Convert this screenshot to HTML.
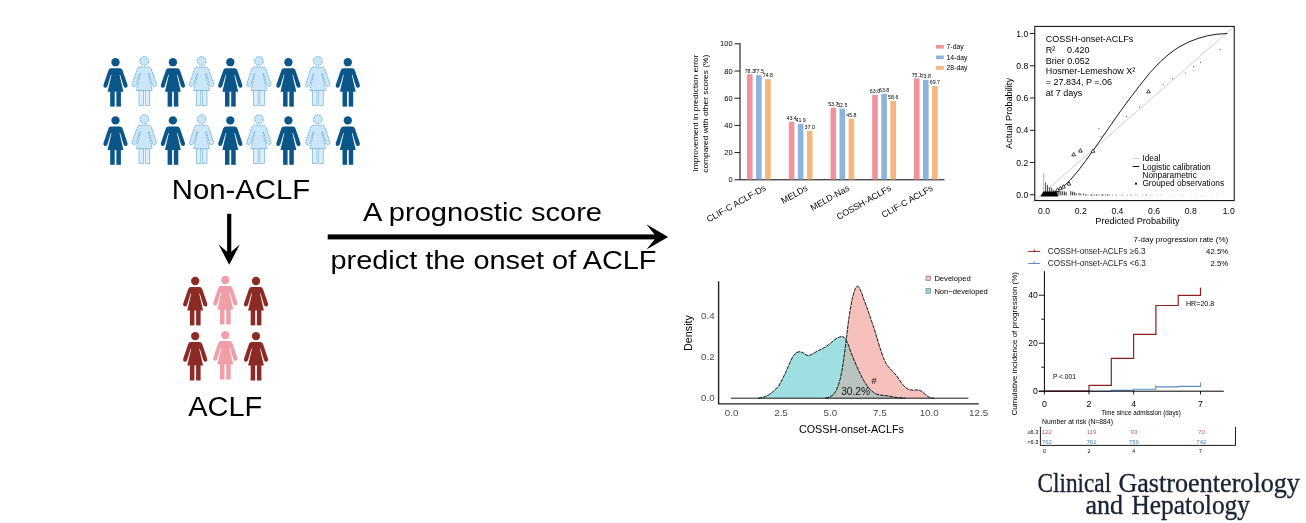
<!DOCTYPE html>
<html lang="en">
<head>
<meta charset="utf-8">
<title>Graphical abstract</title>
<style>
html,body{margin:0;padding:0;background:#fff;}
body{width:1306px;height:523px;overflow:hidden;}
svg{display:block;font-family:"Liberation Sans", Arial, sans-serif;}
</style>
</head>
<body>
<svg width="1306" height="523" viewBox="0 0 1306 523">
<rect width="1306" height="523" fill="#ffffff"/>
<g id="people">
<rect x="110.2" y="91.2" width="4.5" height="15.4" fill="#0b5688"/>
<rect x="116.4" y="91.2" width="4.5" height="15.4" fill="#0b5688"/>
<path d="M111.1,68.2 Q109.1,68.2 108.4,70.4 L103.5,84.80000000000001 Q103.0,87.5 105.1,87.80000000000001 Q106.9,88.0 107.5,86.0 L110.9,74.8 L111.5,74.8 L107.6,91.7 L123.4,91.7 L119.5,74.8 L120.1,74.8 L123.5,86.0 Q124.1,88.0 125.9,87.80000000000001 Q128.0,87.5 127.5,84.80000000000001 L122.6,70.4 Q121.9,68.2 119.9,68.2 Z" fill="#0b5688"/>
<circle cx="115.5" cy="62.2" r="4.15" fill="#0b5688"/>
<rect x="139.0" y="90.0" width="4.5" height="15.4" fill="#dbeefb" stroke="#5fa6d6" stroke-width="0.6"/>
<rect x="145.20000000000002" y="90.0" width="4.5" height="15.4" fill="#dbeefb" stroke="#5fa6d6" stroke-width="0.6"/>
<path d="M139.9,67.0 Q137.9,67.0 137.20000000000002,69.2 L132.3,83.6 Q131.8,86.3 133.9,86.6 Q135.70000000000002,86.8 136.3,84.8 L139.70000000000002,73.6 L140.3,73.6 L136.4,90.5 L152.20000000000002,90.5 L148.3,73.6 L148.9,73.6 L152.3,84.8 Q152.9,86.8 154.70000000000002,86.6 Q156.8,86.3 156.3,83.6 L151.4,69.2 Q150.70000000000002,67.0 148.70000000000002,67.0 Z" fill="#cbe6f8" stroke="#5fa6d6" stroke-width="0.9" stroke-dasharray="1.8 0.9"/>
<circle cx="144.3" cy="61.0" r="4.4" fill="#cbe6f8" stroke="#5fa6d6" stroke-width="0.9" stroke-dasharray="1.8 0.9"/>
<rect x="167.6" y="91.2" width="4.5" height="15.4" fill="#0b5688"/>
<rect x="173.8" y="91.2" width="4.5" height="15.4" fill="#0b5688"/>
<path d="M168.5,68.2 Q166.5,68.2 165.8,70.4 L160.9,84.80000000000001 Q160.4,87.5 162.5,87.80000000000001 Q164.3,88.0 164.9,86.0 L168.3,74.8 L168.9,74.8 L165.0,91.7 L180.8,91.7 L176.9,74.8 L177.5,74.8 L180.9,86.0 Q181.5,88.0 183.3,87.80000000000001 Q185.4,87.5 184.9,84.80000000000001 L180.0,70.4 Q179.3,68.2 177.3,68.2 Z" fill="#0b5688"/>
<circle cx="172.9" cy="62.2" r="4.15" fill="#0b5688"/>
<rect x="196.29999999999998" y="90.0" width="4.5" height="15.4" fill="#dbeefb" stroke="#5fa6d6" stroke-width="0.6"/>
<rect x="202.5" y="90.0" width="4.5" height="15.4" fill="#dbeefb" stroke="#5fa6d6" stroke-width="0.6"/>
<path d="M197.2,67.0 Q195.2,67.0 194.5,69.2 L189.6,83.6 Q189.1,86.3 191.2,86.6 Q193.0,86.8 193.6,84.8 L197.0,73.6 L197.6,73.6 L193.7,90.5 L209.5,90.5 L205.6,73.6 L206.2,73.6 L209.6,84.8 Q210.2,86.8 212.0,86.6 Q214.1,86.3 213.6,83.6 L208.7,69.2 Q208.0,67.0 206.0,67.0 Z" fill="#cbe6f8" stroke="#5fa6d6" stroke-width="0.9" stroke-dasharray="1.8 0.9"/>
<circle cx="201.6" cy="61.0" r="4.4" fill="#cbe6f8" stroke="#5fa6d6" stroke-width="0.9" stroke-dasharray="1.8 0.9"/>
<rect x="225.0" y="91.2" width="4.5" height="15.4" fill="#0b5688"/>
<rect x="231.20000000000002" y="91.2" width="4.5" height="15.4" fill="#0b5688"/>
<path d="M225.9,68.2 Q223.9,68.2 223.20000000000002,70.4 L218.3,84.80000000000001 Q217.8,87.5 219.9,87.80000000000001 Q221.70000000000002,88.0 222.3,86.0 L225.70000000000002,74.8 L226.3,74.8 L222.4,91.7 L238.20000000000002,91.7 L234.3,74.8 L234.9,74.8 L238.3,86.0 Q238.9,88.0 240.70000000000002,87.80000000000001 Q242.8,87.5 242.3,84.80000000000001 L237.4,70.4 Q236.70000000000002,68.2 234.70000000000002,68.2 Z" fill="#0b5688"/>
<circle cx="230.3" cy="62.2" r="4.15" fill="#0b5688"/>
<rect x="253.59999999999997" y="90.0" width="4.5" height="15.4" fill="#dbeefb" stroke="#5fa6d6" stroke-width="0.6"/>
<rect x="259.79999999999995" y="90.0" width="4.5" height="15.4" fill="#dbeefb" stroke="#5fa6d6" stroke-width="0.6"/>
<path d="M254.49999999999997,67.0 Q252.49999999999997,67.0 251.79999999999998,69.2 L246.89999999999998,83.6 Q246.39999999999998,86.3 248.49999999999997,86.6 Q250.29999999999998,86.8 250.89999999999998,84.8 L254.29999999999998,73.6 L254.89999999999998,73.6 L250.99999999999997,90.5 L266.79999999999995,90.5 L262.9,73.6 L263.5,73.6 L266.9,84.8 Q267.5,86.8 269.29999999999995,86.6 Q271.4,86.3 270.9,83.6 L266.0,69.2 Q265.29999999999995,67.0 263.29999999999995,67.0 Z" fill="#cbe6f8" stroke="#5fa6d6" stroke-width="0.9" stroke-dasharray="1.8 0.9"/>
<circle cx="258.9" cy="61.0" r="4.4" fill="#cbe6f8" stroke="#5fa6d6" stroke-width="0.9" stroke-dasharray="1.8 0.9"/>
<rect x="283.09999999999997" y="91.2" width="4.5" height="15.4" fill="#0b5688"/>
<rect x="289.29999999999995" y="91.2" width="4.5" height="15.4" fill="#0b5688"/>
<path d="M284.0,68.2 Q282.0,68.2 281.29999999999995,70.4 L276.4,84.80000000000001 Q275.9,87.5 278.0,87.80000000000001 Q279.79999999999995,88.0 280.4,86.0 L283.79999999999995,74.8 L284.4,74.8 L280.5,91.7 L296.29999999999995,91.7 L292.4,74.8 L293.0,74.8 L296.4,86.0 Q297.0,88.0 298.79999999999995,87.80000000000001 Q300.9,87.5 300.4,84.80000000000001 L295.5,70.4 Q294.79999999999995,68.2 292.79999999999995,68.2 Z" fill="#0b5688"/>
<circle cx="288.4" cy="62.2" r="4.15" fill="#0b5688"/>
<rect x="312.5" y="90.0" width="4.5" height="15.4" fill="#dbeefb" stroke="#5fa6d6" stroke-width="0.6"/>
<rect x="318.7" y="90.0" width="4.5" height="15.4" fill="#dbeefb" stroke="#5fa6d6" stroke-width="0.6"/>
<path d="M313.40000000000003,67.0 Q311.40000000000003,67.0 310.7,69.2 L305.8,83.6 Q305.3,86.3 307.40000000000003,86.6 Q309.2,86.8 309.8,84.8 L313.2,73.6 L313.8,73.6 L309.90000000000003,90.5 L325.7,90.5 L321.8,73.6 L322.40000000000003,73.6 L325.8,84.8 Q326.40000000000003,86.8 328.2,86.6 Q330.3,86.3 329.8,83.6 L324.90000000000003,69.2 Q324.2,67.0 322.2,67.0 Z" fill="#cbe6f8" stroke="#5fa6d6" stroke-width="0.9" stroke-dasharray="1.8 0.9"/>
<circle cx="317.8" cy="61.0" r="4.4" fill="#cbe6f8" stroke="#5fa6d6" stroke-width="0.9" stroke-dasharray="1.8 0.9"/>
<rect x="342.5" y="91.2" width="4.5" height="15.4" fill="#0b5688"/>
<rect x="348.7" y="91.2" width="4.5" height="15.4" fill="#0b5688"/>
<path d="M343.40000000000003,68.2 Q341.40000000000003,68.2 340.7,70.4 L335.8,84.80000000000001 Q335.3,87.5 337.40000000000003,87.80000000000001 Q339.2,88.0 339.8,86.0 L343.2,74.8 L343.8,74.8 L339.90000000000003,91.7 L355.7,91.7 L351.8,74.8 L352.40000000000003,74.8 L355.8,86.0 Q356.40000000000003,88.0 358.2,87.80000000000001 Q360.3,87.5 359.8,84.80000000000001 L354.90000000000003,70.4 Q354.2,68.2 352.2,68.2 Z" fill="#0b5688"/>
<circle cx="347.8" cy="62.2" r="4.15" fill="#0b5688"/>
<rect x="110.2" y="149.4" width="4.5" height="15.4" fill="#0b5688"/>
<rect x="116.4" y="149.4" width="4.5" height="15.4" fill="#0b5688"/>
<path d="M111.1,126.4 Q109.1,126.4 108.4,128.6 L103.5,143.0 Q103.0,145.70000000000002 105.1,146.0 Q106.9,146.20000000000002 107.5,144.20000000000002 L110.9,133.0 L111.5,133.0 L107.6,149.9 L123.4,149.9 L119.5,133.0 L120.1,133.0 L123.5,144.20000000000002 Q124.1,146.20000000000002 125.9,146.0 Q128.0,145.70000000000002 127.5,143.0 L122.6,128.6 Q121.9,126.4 119.9,126.4 Z" fill="#0b5688"/>
<circle cx="115.5" cy="120.4" r="4.15" fill="#0b5688"/>
<rect x="139.0" y="148.2" width="4.5" height="15.4" fill="#dbeefb" stroke="#5fa6d6" stroke-width="0.6"/>
<rect x="145.20000000000002" y="148.2" width="4.5" height="15.4" fill="#dbeefb" stroke="#5fa6d6" stroke-width="0.6"/>
<path d="M139.9,125.2 Q137.9,125.2 137.20000000000002,127.4 L132.3,141.8 Q131.8,144.5 133.9,144.8 Q135.70000000000002,145.0 136.3,143.0 L139.70000000000002,131.8 L140.3,131.8 L136.4,148.7 L152.20000000000002,148.7 L148.3,131.8 L148.9,131.8 L152.3,143.0 Q152.9,145.0 154.70000000000002,144.8 Q156.8,144.5 156.3,141.8 L151.4,127.4 Q150.70000000000002,125.2 148.70000000000002,125.2 Z" fill="#cbe6f8" stroke="#5fa6d6" stroke-width="0.9" stroke-dasharray="1.8 0.9"/>
<circle cx="144.3" cy="119.2" r="4.4" fill="#cbe6f8" stroke="#5fa6d6" stroke-width="0.9" stroke-dasharray="1.8 0.9"/>
<rect x="167.6" y="149.4" width="4.5" height="15.4" fill="#0b5688"/>
<rect x="173.8" y="149.4" width="4.5" height="15.4" fill="#0b5688"/>
<path d="M168.5,126.4 Q166.5,126.4 165.8,128.6 L160.9,143.0 Q160.4,145.70000000000002 162.5,146.0 Q164.3,146.20000000000002 164.9,144.20000000000002 L168.3,133.0 L168.9,133.0 L165.0,149.9 L180.8,149.9 L176.9,133.0 L177.5,133.0 L180.9,144.20000000000002 Q181.5,146.20000000000002 183.3,146.0 Q185.4,145.70000000000002 184.9,143.0 L180.0,128.6 Q179.3,126.4 177.3,126.4 Z" fill="#0b5688"/>
<circle cx="172.9" cy="120.4" r="4.15" fill="#0b5688"/>
<rect x="196.29999999999998" y="148.2" width="4.5" height="15.4" fill="#dbeefb" stroke="#5fa6d6" stroke-width="0.6"/>
<rect x="202.5" y="148.2" width="4.5" height="15.4" fill="#dbeefb" stroke="#5fa6d6" stroke-width="0.6"/>
<path d="M197.2,125.2 Q195.2,125.2 194.5,127.4 L189.6,141.8 Q189.1,144.5 191.2,144.8 Q193.0,145.0 193.6,143.0 L197.0,131.8 L197.6,131.8 L193.7,148.7 L209.5,148.7 L205.6,131.8 L206.2,131.8 L209.6,143.0 Q210.2,145.0 212.0,144.8 Q214.1,144.5 213.6,141.8 L208.7,127.4 Q208.0,125.2 206.0,125.2 Z" fill="#cbe6f8" stroke="#5fa6d6" stroke-width="0.9" stroke-dasharray="1.8 0.9"/>
<circle cx="201.6" cy="119.2" r="4.4" fill="#cbe6f8" stroke="#5fa6d6" stroke-width="0.9" stroke-dasharray="1.8 0.9"/>
<rect x="225.0" y="149.4" width="4.5" height="15.4" fill="#0b5688"/>
<rect x="231.20000000000002" y="149.4" width="4.5" height="15.4" fill="#0b5688"/>
<path d="M225.9,126.4 Q223.9,126.4 223.20000000000002,128.6 L218.3,143.0 Q217.8,145.70000000000002 219.9,146.0 Q221.70000000000002,146.20000000000002 222.3,144.20000000000002 L225.70000000000002,133.0 L226.3,133.0 L222.4,149.9 L238.20000000000002,149.9 L234.3,133.0 L234.9,133.0 L238.3,144.20000000000002 Q238.9,146.20000000000002 240.70000000000002,146.0 Q242.8,145.70000000000002 242.3,143.0 L237.4,128.6 Q236.70000000000002,126.4 234.70000000000002,126.4 Z" fill="#0b5688"/>
<circle cx="230.3" cy="120.4" r="4.15" fill="#0b5688"/>
<rect x="253.59999999999997" y="148.2" width="4.5" height="15.4" fill="#dbeefb" stroke="#5fa6d6" stroke-width="0.6"/>
<rect x="259.79999999999995" y="148.2" width="4.5" height="15.4" fill="#dbeefb" stroke="#5fa6d6" stroke-width="0.6"/>
<path d="M254.49999999999997,125.2 Q252.49999999999997,125.2 251.79999999999998,127.4 L246.89999999999998,141.8 Q246.39999999999998,144.5 248.49999999999997,144.8 Q250.29999999999998,145.0 250.89999999999998,143.0 L254.29999999999998,131.8 L254.89999999999998,131.8 L250.99999999999997,148.7 L266.79999999999995,148.7 L262.9,131.8 L263.5,131.8 L266.9,143.0 Q267.5,145.0 269.29999999999995,144.8 Q271.4,144.5 270.9,141.8 L266.0,127.4 Q265.29999999999995,125.2 263.29999999999995,125.2 Z" fill="#cbe6f8" stroke="#5fa6d6" stroke-width="0.9" stroke-dasharray="1.8 0.9"/>
<circle cx="258.9" cy="119.2" r="4.4" fill="#cbe6f8" stroke="#5fa6d6" stroke-width="0.9" stroke-dasharray="1.8 0.9"/>
<rect x="283.09999999999997" y="149.4" width="4.5" height="15.4" fill="#0b5688"/>
<rect x="289.29999999999995" y="149.4" width="4.5" height="15.4" fill="#0b5688"/>
<path d="M284.0,126.4 Q282.0,126.4 281.29999999999995,128.6 L276.4,143.0 Q275.9,145.70000000000002 278.0,146.0 Q279.79999999999995,146.20000000000002 280.4,144.20000000000002 L283.79999999999995,133.0 L284.4,133.0 L280.5,149.9 L296.29999999999995,149.9 L292.4,133.0 L293.0,133.0 L296.4,144.20000000000002 Q297.0,146.20000000000002 298.79999999999995,146.0 Q300.9,145.70000000000002 300.4,143.0 L295.5,128.6 Q294.79999999999995,126.4 292.79999999999995,126.4 Z" fill="#0b5688"/>
<circle cx="288.4" cy="120.4" r="4.15" fill="#0b5688"/>
<rect x="312.5" y="148.2" width="4.5" height="15.4" fill="#dbeefb" stroke="#5fa6d6" stroke-width="0.6"/>
<rect x="318.7" y="148.2" width="4.5" height="15.4" fill="#dbeefb" stroke="#5fa6d6" stroke-width="0.6"/>
<path d="M313.40000000000003,125.2 Q311.40000000000003,125.2 310.7,127.4 L305.8,141.8 Q305.3,144.5 307.40000000000003,144.8 Q309.2,145.0 309.8,143.0 L313.2,131.8 L313.8,131.8 L309.90000000000003,148.7 L325.7,148.7 L321.8,131.8 L322.40000000000003,131.8 L325.8,143.0 Q326.40000000000003,145.0 328.2,144.8 Q330.3,144.5 329.8,141.8 L324.90000000000003,127.4 Q324.2,125.2 322.2,125.2 Z" fill="#cbe6f8" stroke="#5fa6d6" stroke-width="0.9" stroke-dasharray="1.8 0.9"/>
<circle cx="317.8" cy="119.2" r="4.4" fill="#cbe6f8" stroke="#5fa6d6" stroke-width="0.9" stroke-dasharray="1.8 0.9"/>
<rect x="342.5" y="149.4" width="4.5" height="15.4" fill="#0b5688"/>
<rect x="348.7" y="149.4" width="4.5" height="15.4" fill="#0b5688"/>
<path d="M343.40000000000003,126.4 Q341.40000000000003,126.4 340.7,128.6 L335.8,143.0 Q335.3,145.70000000000002 337.40000000000003,146.0 Q339.2,146.20000000000002 339.8,144.20000000000002 L343.2,133.0 L343.8,133.0 L339.90000000000003,149.9 L355.7,149.9 L351.8,133.0 L352.40000000000003,133.0 L355.8,144.20000000000002 Q356.40000000000003,146.20000000000002 358.2,146.0 Q360.3,145.70000000000002 359.8,143.0 L354.90000000000003,128.6 Q354.2,126.4 352.2,126.4 Z" fill="#0b5688"/>
<circle cx="347.8" cy="120.4" r="4.15" fill="#0b5688"/>
<rect x="189.89999999999998" y="310.0" width="4.5" height="15.4" fill="#8c2a25"/>
<rect x="196.1" y="310.0" width="4.5" height="15.4" fill="#8c2a25"/>
<path d="M190.79999999999998,287.0 Q188.79999999999998,287.0 188.1,289.2 L183.2,303.6 Q182.7,306.3 184.79999999999998,306.6 Q186.6,306.8 187.2,304.8 L190.6,293.6 L191.2,293.6 L187.29999999999998,310.5 L203.1,310.5 L199.2,293.6 L199.79999999999998,293.6 L203.2,304.8 Q203.79999999999998,306.8 205.6,306.6 Q207.7,306.3 207.2,303.6 L202.29999999999998,289.2 Q201.6,287.0 199.6,287.0 Z" fill="#8c2a25"/>
<circle cx="195.2" cy="281.0" r="4.15" fill="#8c2a25"/>
<rect x="220.0" y="309.0" width="4.5" height="15.4" fill="#f19ea8"/>
<rect x="226.20000000000002" y="309.0" width="4.5" height="15.4" fill="#f19ea8"/>
<path d="M220.9,286.0 Q218.9,286.0 218.20000000000002,288.2 L213.3,302.6 Q212.8,305.3 214.9,305.6 Q216.70000000000002,305.8 217.3,303.8 L220.70000000000002,292.6 L221.3,292.6 L217.4,309.5 L233.20000000000002,309.5 L229.3,292.6 L229.9,292.6 L233.3,303.8 Q233.9,305.8 235.70000000000002,305.6 Q237.8,305.3 237.3,302.6 L232.4,288.2 Q231.70000000000002,286.0 229.70000000000002,286.0 Z" fill="#f19ea8"/>
<circle cx="225.3" cy="280.0" r="4.15" fill="#f19ea8"/>
<rect x="250.7" y="310.0" width="4.5" height="15.4" fill="#8c2a25"/>
<rect x="256.9" y="310.0" width="4.5" height="15.4" fill="#8c2a25"/>
<path d="M251.6,287.0 Q249.6,287.0 248.9,289.2 L244.0,303.6 Q243.5,306.3 245.6,306.6 Q247.4,306.8 248.0,304.8 L251.4,293.6 L252.0,293.6 L248.1,310.5 L263.9,310.5 L260.0,293.6 L260.6,293.6 L264.0,304.8 Q264.6,306.8 266.4,306.6 Q268.5,306.3 268.0,303.6 L263.1,289.2 Q262.4,287.0 260.4,287.0 Z" fill="#8c2a25"/>
<circle cx="256.0" cy="281.0" r="4.15" fill="#8c2a25"/>
<rect x="189.89999999999998" y="365.1" width="4.5" height="15.4" fill="#8c2a25"/>
<rect x="196.1" y="365.1" width="4.5" height="15.4" fill="#8c2a25"/>
<path d="M190.79999999999998,342.1 Q188.79999999999998,342.1 188.1,344.3 L183.2,358.70000000000005 Q182.7,361.40000000000003 184.79999999999998,361.70000000000005 Q186.6,361.90000000000003 187.2,359.90000000000003 L190.6,348.70000000000005 L191.2,348.70000000000005 L187.29999999999998,365.6 L203.1,365.6 L199.2,348.70000000000005 L199.79999999999998,348.70000000000005 L203.2,359.90000000000003 Q203.79999999999998,361.90000000000003 205.6,361.70000000000005 Q207.7,361.40000000000003 207.2,358.70000000000005 L202.29999999999998,344.3 Q201.6,342.1 199.6,342.1 Z" fill="#8c2a25"/>
<circle cx="195.2" cy="336.1" r="4.15" fill="#8c2a25"/>
<rect x="220.0" y="364.1" width="4.5" height="15.4" fill="#f19ea8"/>
<rect x="226.20000000000002" y="364.1" width="4.5" height="15.4" fill="#f19ea8"/>
<path d="M220.9,341.1 Q218.9,341.1 218.20000000000002,343.3 L213.3,357.70000000000005 Q212.8,360.40000000000003 214.9,360.70000000000005 Q216.70000000000002,360.90000000000003 217.3,358.90000000000003 L220.70000000000002,347.70000000000005 L221.3,347.70000000000005 L217.4,364.6 L233.20000000000002,364.6 L229.3,347.70000000000005 L229.9,347.70000000000005 L233.3,358.90000000000003 Q233.9,360.90000000000003 235.70000000000002,360.70000000000005 Q237.8,360.40000000000003 237.3,357.70000000000005 L232.4,343.3 Q231.70000000000002,341.1 229.70000000000002,341.1 Z" fill="#f19ea8"/>
<circle cx="225.3" cy="335.1" r="4.15" fill="#f19ea8"/>
<rect x="250.7" y="365.1" width="4.5" height="15.4" fill="#8c2a25"/>
<rect x="256.9" y="365.1" width="4.5" height="15.4" fill="#8c2a25"/>
<path d="M251.6,342.1 Q249.6,342.1 248.9,344.3 L244.0,358.70000000000005 Q243.5,361.40000000000003 245.6,361.70000000000005 Q247.4,361.90000000000003 248.0,359.90000000000003 L251.4,348.70000000000005 L252.0,348.70000000000005 L248.1,365.6 L263.9,365.6 L260.0,348.70000000000005 L260.6,348.70000000000005 L264.0,359.90000000000003 Q264.6,361.90000000000003 266.4,361.70000000000005 Q268.5,361.40000000000003 268.0,358.70000000000005 L263.1,344.3 Q262.4,342.1 260.4,342.1 Z" fill="#8c2a25"/>
<circle cx="256.0" cy="336.1" r="4.15" fill="#8c2a25"/>
</g>
<text x="171.8" y="198.8" font-size="27.3" fill="#000" text-anchor="start" textLength="138.4" lengthAdjust="spacingAndGlyphs">Non-ACLF</text>
<text x="188.3" y="415.5" font-size="28.2" fill="#000" text-anchor="start" textLength="74" lengthAdjust="spacingAndGlyphs">ACLF</text>
<rect x="227.1" y="213.8" width="4.2" height="42" fill="#000"/>
<path d="M229.2,264.8 L218.6,244.6 L229.2,253.6 L239.8,244.6 Z" fill="#000"/>
<rect x="327.7" y="234.4" width="330" height="5" fill="#000"/>
<path d="M668.2,236.9 L646.4,224.3 L656.6,236.9 L646.4,249.5 Z" fill="#000"/>
<text x="363.0" y="221.2" font-size="25.5" fill="#000" text-anchor="start" textLength="239" lengthAdjust="spacingAndGlyphs">A prognostic score</text>
<text x="330.5" y="269.2" font-size="25.5" fill="#000" text-anchor="start" textLength="326" lengthAdjust="spacingAndGlyphs">predict the onset of ACLF</text>
<g id="bar">
<path d="M740,43.3 V179.8 H944.5" fill="none" stroke="#000" stroke-width="1"/>
<line x1="734.5" x2="740" y1="179.8" y2="179.8" stroke="#000" stroke-width="0.9"/>
<text x="732.6" y="182.4" font-size="7.5" fill="#000" text-anchor="end" >0</text>
<line x1="734.5" x2="740" y1="152.6" y2="152.6" stroke="#000" stroke-width="0.9"/>
<text x="732.6" y="155.2" font-size="7.5" fill="#000" text-anchor="end" >20</text>
<line x1="734.5" x2="740" y1="125.4" y2="125.4" stroke="#000" stroke-width="0.9"/>
<text x="732.6" y="128.0" font-size="7.5" fill="#000" text-anchor="end" >40</text>
<line x1="734.5" x2="740" y1="98.2" y2="98.2" stroke="#000" stroke-width="0.9"/>
<text x="732.6" y="100.8" font-size="7.5" fill="#000" text-anchor="end" >60</text>
<line x1="734.5" x2="740" y1="71.0" y2="71.0" stroke="#000" stroke-width="0.9"/>
<text x="732.6" y="73.6" font-size="7.5" fill="#000" text-anchor="end" >80</text>
<line x1="734.5" x2="740" y1="43.8" y2="43.8" stroke="#000" stroke-width="0.9"/>
<text x="732.6" y="46.4" font-size="7.5" fill="#000" text-anchor="end" >100</text>
<rect x="747.0" y="74.3" width="5.6" height="105.1" fill="#f0949c"/>
<text x="749.8" y="72.5" font-size="5.3" fill="#000" text-anchor="middle" >78.3</text>
<rect x="756.0" y="75.1" width="5.6" height="104.3" fill="#8db4dc"/>
<text x="758.8" y="73.3" font-size="5.3" fill="#000" text-anchor="middle" >77.5</text>
<rect x="765.1" y="79.2" width="5.6" height="100.2" fill="#f6b77a"/>
<text x="767.9" y="77.4" font-size="5.3" fill="#000" text-anchor="middle" >74.8</text>
<text transform="translate(763.6,184.6) rotate(-29.5)" font-size="8.8" text-anchor="end" x="0" y="6">CLIF-C ACLF-Ds</text>
<rect x="788.8" y="121.9" width="5.6" height="57.5" fill="#f0949c"/>
<text x="791.6" y="120.1" font-size="5.3" fill="#000" text-anchor="middle" >43.4</text>
<rect x="797.8" y="123.8" width="5.6" height="55.6" fill="#8db4dc"/>
<text x="800.6" y="122.0" font-size="5.3" fill="#000" text-anchor="middle" >41.9</text>
<rect x="806.9" y="130.8" width="5.6" height="48.6" fill="#f6b77a"/>
<text x="809.7" y="129.0" font-size="5.3" fill="#000" text-anchor="middle" >37.0</text>
<text transform="translate(805.4,184.6) rotate(-29.5)" font-size="8.8" text-anchor="end" x="0" y="6">MELDs</text>
<rect x="830.5" y="107.7" width="5.6" height="71.7" fill="#f0949c"/>
<text x="833.3" y="105.9" font-size="5.3" fill="#000" text-anchor="middle" >53.7</text>
<rect x="839.5" y="108.5" width="5.6" height="70.9" fill="#8db4dc"/>
<text x="842.3" y="106.7" font-size="5.3" fill="#000" text-anchor="middle" >52.5</text>
<rect x="848.6" y="118.6" width="5.6" height="60.8" fill="#f6b77a"/>
<text x="851.4" y="116.8" font-size="5.3" fill="#000" text-anchor="middle" >45.8</text>
<text transform="translate(847.1,184.6) rotate(-29.5)" font-size="8.8" text-anchor="end" x="0" y="6">MELD-Nas</text>
<rect x="872.2" y="94.9" width="5.6" height="84.5" fill="#f0949c"/>
<text x="875.0" y="93.1" font-size="5.3" fill="#000" text-anchor="middle" >63.0</text>
<rect x="881.3" y="93.8" width="5.6" height="85.6" fill="#8db4dc"/>
<text x="884.1" y="92.0" font-size="5.3" fill="#000" text-anchor="middle" >63.8</text>
<rect x="890.4" y="100.9" width="5.6" height="78.5" fill="#f6b77a"/>
<text x="893.2" y="99.1" font-size="5.3" fill="#000" text-anchor="middle" >58.6</text>
<text transform="translate(888.9,184.6) rotate(-29.5)" font-size="8.8" text-anchor="end" x="0" y="6">COSSH-ACLFs</text>
<rect x="914.0" y="78.3" width="5.6" height="101.1" fill="#f0949c"/>
<text x="916.8" y="76.5" font-size="5.3" fill="#000" text-anchor="middle" >75.1</text>
<rect x="923.0" y="80.0" width="5.6" height="99.4" fill="#8db4dc"/>
<text x="925.8" y="78.2" font-size="5.3" fill="#000" text-anchor="middle" >73.8</text>
<rect x="932.1" y="86.0" width="5.6" height="93.4" fill="#f6b77a"/>
<text x="934.9" y="84.2" font-size="5.3" fill="#000" text-anchor="middle" >69.7</text>
<text transform="translate(930.6,184.6) rotate(-29.5)" font-size="8.8" text-anchor="end" x="0" y="6">CLIF-C ACLFs</text>
<rect x="936" y="45.0" width="7.8" height="3.6" fill="#f0949c"/>
<text x="946.6" y="49.2" font-size="6.8" fill="#000" text-anchor="start" >7-day</text>
<rect x="936" y="55.5" width="7.8" height="3.6" fill="#8db4dc"/>
<text x="946.6" y="59.7" font-size="6.8" fill="#000" text-anchor="start" >14-day</text>
<rect x="936" y="66.10000000000001" width="7.8" height="3.6" fill="#f6b77a"/>
<text x="946.6" y="70.3" font-size="6.8" fill="#000" text-anchor="start" >28-day</text>
<text transform="translate(697.6,113) rotate(-90)" font-size="7.4" text-anchor="middle" textLength="117" lengthAdjust="spacingAndGlyphs">Improvement in prediction error</text>
<text transform="translate(708.4,113.8) rotate(-90)" font-size="7.4" text-anchor="middle" textLength="118" lengthAdjust="spacingAndGlyphs">compared with other scores (%)</text>
</g>
<g id="calib">
<line x1="1034.8" y1="200.6" x2="1234.2" y2="26.4" stroke="#c8c8c8" stroke-width="0.9"/>
<circle cx="1099.0" cy="128.7" r="0.55" fill="#333"/>
<circle cx="1100.9" cy="136.7" r="0.55" fill="#333"/>
<circle cx="1126.6" cy="116.6" r="0.55" fill="#333"/>
<circle cx="1139.4" cy="106.9" r="0.55" fill="#333"/>
<circle cx="1163.3" cy="84.3" r="0.55" fill="#333"/>
<circle cx="1172.5" cy="78.7" r="0.55" fill="#333"/>
<circle cx="1185.3" cy="73.0" r="0.55" fill="#333"/>
<circle cx="1193.6" cy="66.6" r="0.55" fill="#333"/>
<circle cx="1200.5" cy="62.2" r="0.55" fill="#333"/>
<circle cx="1220.2" cy="49.6" r="0.55" fill="#333"/>
<circle cx="1080.7" cy="151.2" r="0.55" fill="#333"/>
<path d="M1046.0,194.6 L1052,193.6 L1058,190.5 L1064,186.0 L1070,180.3 L1078,171.0 L1086,160.3 L1093.1,150.6 L1102,137.8 L1111,124.7 L1120.4,111.3 L1130,98.2 L1140,85.2 L1150,72.6 L1160.5,61.6 L1169.1,54.0 L1178,47.6 L1188.2,42.2 L1198,38.4 L1207.4,35.8 L1216.9,34.2 L1227.4,33.5" fill="none" stroke="#000" stroke-width="0.9" stroke-linejoin="round"/>
<line x1="1043.7" x2="1043.7" y1="173.4" y2="195.4" stroke="#999" stroke-width="0.8"/>
<line x1="1045.6" x2="1045.6" y1="182.4" y2="195.4" stroke="#222" stroke-width="0.8"/>
<line x1="1047.5" x2="1047.5" y1="184.9" y2="195.4" stroke="#222" stroke-width="0.8"/>
<line x1="1049.4" x2="1049.4" y1="187.4" y2="195.4" stroke="#222" stroke-width="0.8"/>
<line x1="1051.3" x2="1051.3" y1="187.4" y2="195.4" stroke="#222" stroke-width="0.8"/>
<line x1="1053.2" x2="1053.2" y1="189.4" y2="195.4" stroke="#222" stroke-width="0.8"/>
<line x1="1055.1" x2="1055.1" y1="190.4" y2="195.4" stroke="#222" stroke-width="0.8"/>
<line x1="1057" x2="1057" y1="190.9" y2="195.4" stroke="#000" stroke-width="0.8"/>
<line x1="1058.9" x2="1058.9" y1="190.9" y2="195.4" stroke="#000" stroke-width="0.8"/>
<line x1="1060.8" x2="1060.8" y1="191.2" y2="195.4" stroke="#000" stroke-width="0.8"/>
<line x1="1062.7" x2="1062.7" y1="191.2" y2="195.4" stroke="#000" stroke-width="0.8"/>
<line x1="1064.6" x2="1064.6" y1="191.4" y2="195.4" stroke="#000" stroke-width="0.8"/>
<line x1="1066.2" x2="1066.2" y1="192.2" y2="195.4" stroke="#000" stroke-width="0.8"/>
<line x1="1070.8" x2="1070.8" y1="191.2" y2="195.4" stroke="#000" stroke-width="0.8"/>
<line x1="1072.6" x2="1072.6" y1="191.6" y2="195.4" stroke="#000" stroke-width="0.8"/>
<line x1="1074.4" x2="1074.4" y1="192.2" y2="195.4" stroke="#000" stroke-width="0.8"/>
<line x1="1076.2" x2="1076.2" y1="193.2" y2="195.4" stroke="#111" stroke-width="0.8"/>
<line x1="1079.0" x2="1079.0" y1="193.0" y2="195.4" stroke="#111" stroke-width="0.8"/>
<line x1="1080.8" x2="1080.8" y1="193.6" y2="195.4" stroke="#111" stroke-width="0.8"/>
<line x1="1083.5" x2="1083.5" y1="193.4" y2="195.4" stroke="#222" stroke-width="0.8"/>
<path d="M1040.4,196.4 L1043.4,191.6 L1056.5,191.6 L1058.3,196.4 Z" fill="#000"/>
<line x1="1085" x2="1112" y1="195.0" y2="195.0" stroke="#222" stroke-width="1.0" stroke-dasharray="1.4 1.2 0.8 2.1 2.0 1.5 0.8 1.1"/>
<line x1="1112" x2="1152" y1="195.1" y2="195.1" stroke="#777" stroke-width="0.9" stroke-dasharray="0.9 2.2 1.6 3.1 0.8 1.6 0.8 4.2"/>
<line x1="1152" x2="1222" y1="195.2" y2="195.2" stroke="#bbb" stroke-width="0.8" stroke-dasharray="0.9 4.6 0.8 2.3 1.4 7.2 0.8 3.5"/>
<path d="M1073.7,152.5 L1075.6,155.9 L1071.8,155.9 Z" fill="#fff" stroke="#000" stroke-width="0.7"/>
<path d="M1080.4,148.7 L1082.3,152.1 L1078.5,152.1 Z" fill="#fff" stroke="#000" stroke-width="0.7"/>
<path d="M1093.1,148.9 L1095.0,152.3 L1091.2,152.3 Z" fill="#fff" stroke="#000" stroke-width="0.7"/>
<path d="M1148.5,89.5 L1150.4,92.9 L1146.6,92.9 Z" fill="#fff" stroke="#000" stroke-width="0.7"/>
<path d="M1069.0,181.7 L1070.9,185.1 L1067.1,185.1 Z" fill="#fff" stroke="#000" stroke-width="0.7"/>
<path d="M1063.4,184.7 L1065.3,188.1 L1061.5,188.1 Z" fill="#fff" stroke="#000" stroke-width="0.7"/>
<path d="M1060.4,186.3 L1062.3,189.7 L1058.5,189.7 Z" fill="#fff" stroke="#000" stroke-width="0.7"/>
<path d="M1057.5,188.1 L1059.4,191.5 L1055.6,191.5 Z" fill="#fff" stroke="#000" stroke-width="0.7"/>
<rect x="1034.8" y="26.4" width="199.4" height="174.2" fill="none" stroke="#000" stroke-width="1"/>
<line x1="1029.8" x2="1034.8" y1="194.8" y2="194.8" stroke="#000" stroke-width="0.9"/>
<text x="1028.2" y="197.8" font-size="8.6" fill="#000" text-anchor="end" >0.0</text>
<text x="1044.0" y="213.8" font-size="8.6" fill="#000" text-anchor="middle" >0.0</text>
<line x1="1029.8" x2="1034.8" y1="162.5" y2="162.5" stroke="#000" stroke-width="0.9"/>
<text x="1028.2" y="165.5" font-size="8.6" fill="#000" text-anchor="end" >0.2</text>
<text x="1080.7" y="213.8" font-size="8.6" fill="#000" text-anchor="middle" >0.2</text>
<line x1="1029.8" x2="1034.8" y1="130.3" y2="130.3" stroke="#000" stroke-width="0.9"/>
<text x="1028.2" y="133.3" font-size="8.6" fill="#000" text-anchor="end" >0.4</text>
<text x="1117.4" y="213.8" font-size="8.6" fill="#000" text-anchor="middle" >0.4</text>
<line x1="1029.8" x2="1034.8" y1="98.0" y2="98.0" stroke="#000" stroke-width="0.9"/>
<text x="1028.2" y="101.0" font-size="8.6" fill="#000" text-anchor="end" >0.6</text>
<text x="1154.1" y="213.8" font-size="8.6" fill="#000" text-anchor="middle" >0.6</text>
<line x1="1029.8" x2="1034.8" y1="65.8" y2="65.8" stroke="#000" stroke-width="0.9"/>
<text x="1028.2" y="68.8" font-size="8.6" fill="#000" text-anchor="end" >0.8</text>
<text x="1190.8" y="213.8" font-size="8.6" fill="#000" text-anchor="middle" >0.8</text>
<line x1="1029.8" x2="1034.8" y1="33.5" y2="33.5" stroke="#000" stroke-width="0.9"/>
<text x="1028.2" y="36.5" font-size="8.6" fill="#000" text-anchor="end" >1.0</text>
<text x="1228.7" y="213.8" font-size="8.6" fill="#000" text-anchor="middle" >1.0</text>
<text x="1137.4" y="224.0" font-size="9.2" fill="#000" text-anchor="middle" >Predicted Probability</text>
<text transform="translate(1011.5,113.5) rotate(-90)" font-size="9.2" text-anchor="middle">Actual Probability</text>
<text x="1045.7" y="42.1" font-size="9.0" fill="#000" text-anchor="start" >COSSH-onset-ACLFs</text>
<text x="1045.7" y="63.7" font-size="9.0" fill="#000" text-anchor="start" >Brier 0.052</text>
<text x="1045.7" y="73.7" font-size="9.0" fill="#000" text-anchor="start" >Hosmer-Lemeshow X²</text>
<text x="1045.7" y="84.5" font-size="9.0" fill="#000" text-anchor="start" >= 27.834, P =.06</text>
<text x="1045.7" y="96.1" font-size="9.0" fill="#000" text-anchor="start" >at 7 days</text>
<text x="1045.7" y="53.0" font-size="9.0" fill="#000" text-anchor="start" >R²</text>
<text x="1067.0" y="53.0" font-size="9.0" fill="#000" text-anchor="start" >0.420</text>
<line x1="1132.7" x2="1139.2" y1="158.4" y2="158.4" stroke="#c8c8c8" stroke-width="0.9"/>
<line x1="1132.7" x2="1139.2" y1="166.5" y2="166.5" stroke="#000" stroke-width="1"/>
<path d="M1136,181.9 L1137.5,184.6 L1134.5,184.6 Z" fill="#000"/>
<text x="1142.4" y="161.3" font-size="8.3" fill="#000" text-anchor="start" >Ideal</text>
<text x="1142.4" y="169.8" font-size="8.3" fill="#000" text-anchor="start" >Logistic calibration</text>
<text x="1142.4" y="177.7" font-size="8.3" fill="#000" text-anchor="start" >Nonparametric</text>
<text x="1142.4" y="186.2" font-size="8.3" fill="#000" text-anchor="start" >Grouped observations</text>
</g>
<g id="density">
<path d="M825.2,398.2 L829.2,397.2 L833,395 L835.8,391.3 L838.1,386 L840.2,379 L842,370.5 L843.7,359.5 L845.3,347.3 L846.9,334.3 L848.4,321.5 L850.3,309.0 L852.3,298.2 L853.9,292.4 L855.4,288.4 L856.5,286.7 L857.5,286.1 L858.8,287.0 L860.1,289.2 L862,294.0 L863.9,299.5 L866.5,306.5 L869.1,313.7 L871.7,321.4 L874.3,329.2 L876.9,337.6 L879.4,346 L881.4,352.2 L883.3,357.6 L885.2,361.9 L887.2,365.4 L889.8,368.4 L892.3,371 L894.9,373.8 L897.5,377 L900.1,380.9 L902.7,384.7 L905.3,387.3 L907.8,389.1 L910.4,389.9 L913,390.2 L915.6,390.0 L918.2,389.9 L920.2,390.5 L922,391.7 L924,393.3 L925.9,395 L928.5,396.8 L931.1,398.0 L934,398.2 Z" fill="#f4b6b2" fill-opacity="0.85"/>
<path d="M758.1,398.2 L763,397.4 L768.4,395.1 L773.5,391.4 L778.7,386 L782.5,379 L786.5,370.5 L789.8,362.8 L792.9,356.3 L796,352.8 L798.9,351.7 L801.2,352.0 L803.3,353 L806,354.8 L808.4,355.8 L811.5,354.6 L814.9,352.5 L818.8,350.4 L822.6,348.6 L826.5,346.3 L830.4,343.4 L833.8,340.4 L836.8,338.3 L839.5,337.0 L842,336.5 L844,337.3 L845.9,339.5 L848.4,345 L851,352.5 L854.2,360.3 L857.5,368 L860.7,374.8 L863.9,380.9 L867.2,385.8 L870.4,389.9 L873.6,392.5 L876.8,394.3 L882,395.3 L887.2,395.8 L892.4,396.8 L897.5,397.6 L905.2,398.2 Z" fill="#8fd9dc" fill-opacity="0.85"/>
<clipPath id="cpk"><path d="M825.2,398.2 L829.2,397.2 L833,395 L835.8,391.3 L838.1,386 L840.2,379 L842,370.5 L843.7,359.5 L845.3,347.3 L846.9,334.3 L848.4,321.5 L850.3,309.0 L852.3,298.2 L853.9,292.4 L855.4,288.4 L856.5,286.7 L857.5,286.1 L858.8,287.0 L860.1,289.2 L862,294.0 L863.9,299.5 L866.5,306.5 L869.1,313.7 L871.7,321.4 L874.3,329.2 L876.9,337.6 L879.4,346 L881.4,352.2 L883.3,357.6 L885.2,361.9 L887.2,365.4 L889.8,368.4 L892.3,371 L894.9,373.8 L897.5,377 L900.1,380.9 L902.7,384.7 L905.3,387.3 L907.8,389.1 L910.4,389.9 L913,390.2 L915.6,390.0 L918.2,389.9 L920.2,390.5 L922,391.7 L924,393.3 L925.9,395 L928.5,396.8 L931.1,398.0 L934,398.2 Z"/></clipPath>
<path d="M758.1,398.2 L763,397.4 L768.4,395.1 L773.5,391.4 L778.7,386 L782.5,379 L786.5,370.5 L789.8,362.8 L792.9,356.3 L796,352.8 L798.9,351.7 L801.2,352.0 L803.3,353 L806,354.8 L808.4,355.8 L811.5,354.6 L814.9,352.5 L818.8,350.4 L822.6,348.6 L826.5,346.3 L830.4,343.4 L833.8,340.4 L836.8,338.3 L839.5,337.0 L842,336.5 L844,337.3 L845.9,339.5 L848.4,345 L851,352.5 L854.2,360.3 L857.5,368 L860.7,374.8 L863.9,380.9 L867.2,385.8 L870.4,389.9 L873.6,392.5 L876.8,394.3 L882,395.3 L887.2,395.8 L892.4,396.8 L897.5,397.6 L905.2,398.2 Z" fill="#b9c4bf" clip-path="url(#cpk)"/>
<path d="M825.2,398.2 L829.2,397.2 L833,395 L835.8,391.3 L838.1,386 L840.2,379 L842,370.5 L843.7,359.5 L845.3,347.3 L846.9,334.3 L848.4,321.5 L850.3,309.0 L852.3,298.2 L853.9,292.4 L855.4,288.4 L856.5,286.7 L857.5,286.1 L858.8,287.0 L860.1,289.2 L862,294.0 L863.9,299.5 L866.5,306.5 L869.1,313.7 L871.7,321.4 L874.3,329.2 L876.9,337.6 L879.4,346 L881.4,352.2 L883.3,357.6 L885.2,361.9 L887.2,365.4 L889.8,368.4 L892.3,371 L894.9,373.8 L897.5,377 L900.1,380.9 L902.7,384.7 L905.3,387.3 L907.8,389.1 L910.4,389.9 L913,390.2 L915.6,390.0 L918.2,389.9 L920.2,390.5 L922,391.7 L924,393.3 L925.9,395 L928.5,396.8 L931.1,398.0 L934,398.2" fill="none" stroke="#000" stroke-width="0.9" stroke-dasharray="4 0.8"/>
<path d="M758.1,398.2 L763,397.4 L768.4,395.1 L773.5,391.4 L778.7,386 L782.5,379 L786.5,370.5 L789.8,362.8 L792.9,356.3 L796,352.8 L798.9,351.7 L801.2,352.0 L803.3,353 L806,354.8 L808.4,355.8 L811.5,354.6 L814.9,352.5 L818.8,350.4 L822.6,348.6 L826.5,346.3 L830.4,343.4 L833.8,340.4 L836.8,338.3 L839.5,337.0 L842,336.5 L844,337.3 L845.9,339.5 L848.4,345 L851,352.5 L854.2,360.3 L857.5,368 L860.7,374.8 L863.9,380.9 L867.2,385.8 L870.4,389.9 L873.6,392.5 L876.8,394.3 L882,395.3 L887.2,395.8 L892.4,396.8 L897.5,397.6 L905.2,398.2" fill="none" stroke="#000" stroke-width="0.9" stroke-dasharray="4 0.8"/>
<line x1="731" x2="968.4" y1="398.2" y2="398.2" stroke="#000" stroke-width="0.9"/>
<path d="M718.6,281.3 V403.9 H978.7" fill="none" stroke="#222" stroke-width="1.4"/>
<text x="731.6" y="416.3" font-size="9.8" fill="#4d4d4d" text-anchor="middle" >0.0</text>
<text x="781.0" y="416.3" font-size="9.8" fill="#4d4d4d" text-anchor="middle" >2.5</text>
<text x="830.4" y="416.3" font-size="9.8" fill="#4d4d4d" text-anchor="middle" >5.0</text>
<text x="879.8" y="416.3" font-size="9.8" fill="#4d4d4d" text-anchor="middle" >7.5</text>
<text x="929.2" y="416.3" font-size="9.8" fill="#4d4d4d" text-anchor="middle" >10.0</text>
<text x="978.6" y="416.3" font-size="9.8" fill="#4d4d4d" text-anchor="middle" >12.5</text>
<text x="714.6" y="401.1" font-size="9.8" fill="#4d4d4d" text-anchor="end" >0.0</text>
<text x="714.6" y="359.9" font-size="9.8" fill="#4d4d4d" text-anchor="end" >0.2</text>
<text x="714.6" y="318.7" font-size="9.8" fill="#4d4d4d" text-anchor="end" >0.4</text>
<text x="851.4" y="433.0" font-size="10.8" fill="#000" text-anchor="middle" >COSSH-onset-ACLFs</text>
<text transform="translate(692.4,333) rotate(-90)" font-size="10.8" text-anchor="middle">Density</text>
<text x="855.6" y="395.2" font-size="10.2" fill="#111" text-anchor="middle" >30.2%</text>
<text x="873.8" y="384.4" font-size="9.5" fill="#111" text-anchor="middle" font-style="italic">#</text>
<rect x="926.0" y="276.0" width="4.6" height="4.6" fill="#f6c1be" stroke="#555" stroke-width="0.5"/>
<rect x="926.0" y="288.7" width="4.6" height="4.6" fill="#8fd9dc" stroke="#555" stroke-width="0.5"/>
<text x="934.4" y="281.0" font-size="7.6" fill="#000" text-anchor="start" >Developed</text>
<text x="934.4" y="293.7" font-size="7.6" fill="#000" text-anchor="start" >Non−developed</text>
</g>
<g id="km">
<text x="1228.2" y="242.4" font-size="8.0" fill="#000" text-anchor="end" >7-day progression rate (%)</text>
<path d="M1028.2,251.4 H1040.2 M1034.2,249.4 V251.4" stroke="#8e1f1f" stroke-width="1" fill="none"/>
<path d="M1028.2,263.5 H1040.2 M1034.2,261.5 V263.5" stroke="#5b8fc4" stroke-width="1" fill="none"/>
<text x="1047.8" y="254.3" font-size="8.2" fill="#222" text-anchor="start" >COSSH-onset-ACLFs ≥6.3</text>
<text x="1047.8" y="266.2" font-size="8.2" fill="#222" text-anchor="start" >COSSH-onset-ACLFs &lt;6.3</text>
<text x="1228.2" y="254.2" font-size="7.8" fill="#000" text-anchor="end" >42.5%</text>
<text x="1228.2" y="266.3" font-size="7.8" fill="#000" text-anchor="end" >2.5%</text>
<path d="M1044.4,391.2 L1111.3,391.2 L1111.3,390.4 L1133.6,390.4 L1133.6,389.3 L1155.9,389.3 L1155.9,386.9 L1178.2,386.9 L1178.2,386.4 L1200.5,386.4 L1200.5,384.0" fill="none" stroke="#5b8fc4" stroke-width="1.1"/>
<path d="M1155.9,386.9 v-2.2 M1200.5,384.0 v-1.6" stroke="#5b8fc4" stroke-width="0.9" fill="none"/>
<path d="M1044.4,391.2 L1089.0,391.2 L1089.0,385.4 L1111.3,385.4 L1111.3,358.3 L1133.6,358.3 L1133.6,334.3 L1155.9,334.3 L1155.9,305.5 L1178.2,305.5 L1178.2,295.4 L1200.5,295.4 L1200.5,289.0" fill="none" stroke="#8e1f1f" stroke-width="1.2"/>
<path d="M1200.5,289.0 v-1.4" stroke="#8e1f1f" stroke-width="1.4" fill="none"/>
<path d="M1044.4,271.2 V391.2" stroke="#000" stroke-width="1" fill="none"/>
<path d="M1038.7,391.2 H1223.8" stroke="#000" stroke-width="1" fill="none"/>
<line x1="1038.8000000000002" x2="1044.4" y1="391.2" y2="391.2" stroke="#000" stroke-width="0.9"/>
<text x="1037.8" y="394.3" font-size="8.6" fill="#000" text-anchor="end" >0</text>
<line x1="1041.2" x2="1044.4" y1="367.2" y2="367.2" stroke="#000" stroke-width="0.9"/>
<line x1="1038.8000000000002" x2="1044.4" y1="343.2" y2="343.2" stroke="#000" stroke-width="0.9"/>
<text x="1037.8" y="346.3" font-size="8.6" fill="#000" text-anchor="end" >20</text>
<line x1="1041.2" x2="1044.4" y1="319.2" y2="319.2" stroke="#000" stroke-width="0.9"/>
<line x1="1038.8000000000002" x2="1044.4" y1="295.2" y2="295.2" stroke="#000" stroke-width="0.9"/>
<text x="1037.8" y="298.3" font-size="8.6" fill="#000" text-anchor="end" >40</text>
<line x1="1044.4" x2="1044.4" y1="391.2" y2="394.4" stroke="#000" stroke-width="0.9"/>
<text x="1044.4" y="407.3" font-size="8.8" fill="#000" text-anchor="middle" >0</text>
<line x1="1089.0" x2="1089.0" y1="391.2" y2="394.4" stroke="#000" stroke-width="0.9"/>
<text x="1089.0" y="407.3" font-size="8.8" fill="#000" text-anchor="middle" >2</text>
<line x1="1133.6" x2="1133.6" y1="391.2" y2="394.4" stroke="#000" stroke-width="0.9"/>
<text x="1133.6" y="407.3" font-size="8.8" fill="#000" text-anchor="middle" >4</text>
<line x1="1200.5" x2="1200.5" y1="391.2" y2="394.4" stroke="#000" stroke-width="0.9"/>
<text x="1200.5" y="407.3" font-size="8.8" fill="#000" text-anchor="middle" >7</text>
<text x="1141.0" y="414.6" font-size="6.3" fill="#000" text-anchor="middle" >Time since admission (days)</text>
<text transform="translate(1017.4,343.8) rotate(-90)" font-size="8" text-anchor="middle">Cumulative incidence of progression (%)</text>
<text x="1053.0" y="379.1" font-size="6.6" fill="#000" text-anchor="start" >P &lt;.001</text>
<text x="1186.0" y="305.5" font-size="7.1" fill="#000" text-anchor="start" >HR=20.8</text>
<text x="1042.1" y="424.2" font-size="6.8" fill="#000" text-anchor="start" >Number at risk (N=884)</text>
<path d="M1040.4,426.8 V445.4 H1235.5 V426.8" fill="none" stroke="#000" stroke-width="0.9"/>
<text x="1038.4" y="433.8" font-size="5.6" fill="#000" text-anchor="end" >≥6.3</text>
<text x="1038.4" y="443.7" font-size="5.6" fill="#000" text-anchor="end" >&lt;6.3</text>
<text x="1041.8" y="433.8" font-size="6.1" fill="#d2566e" text-anchor="start" >122</text>
<text x="1041.8" y="443.7" font-size="6.1" fill="#4f83b8" text-anchor="start" >762</text>
<text x="1091.5" y="433.8" font-size="6.1" fill="#d2566e" text-anchor="middle" >119</text>
<text x="1091.5" y="443.7" font-size="6.1" fill="#4f83b8" text-anchor="middle" >761</text>
<text x="1133.9" y="433.8" font-size="6.1" fill="#d2566e" text-anchor="middle" >93</text>
<text x="1133.9" y="443.7" font-size="6.1" fill="#4f83b8" text-anchor="middle" >756</text>
<text x="1201.4" y="433.8" font-size="6.1" fill="#d2566e" text-anchor="middle" >70</text>
<text x="1201.4" y="443.7" font-size="6.1" fill="#4f83b8" text-anchor="middle" >742</text>
<text x="1044.4" y="452.8" font-size="5.2" fill="#000" text-anchor="middle" >0</text>
<text x="1089.0" y="452.8" font-size="5.2" fill="#000" text-anchor="middle" >2</text>
<text x="1133.6" y="452.8" font-size="5.2" fill="#000" text-anchor="middle" >4</text>
<text x="1200.5" y="452.8" font-size="5.2" fill="#000" text-anchor="middle" >7</text>
</g>
<g font-family='"Liberation Serif", serif'>
<text x="1037.5" y="491.8" fill="#1b2233" stroke="#1b2233" stroke-width="0.35" font-size="27" lengthAdjust="spacingAndGlyphs" textLength="73.6">Clinical</text>
<text x="1118.4" y="491.8" fill="#1b2233" stroke="#1b2233" stroke-width="0.35" font-size="27" lengthAdjust="spacingAndGlyphs" textLength="181.5">Gastroenterology</text>
<text x="1085.5" y="513.7" fill="#1b2233" stroke="#1b2233" stroke-width="0.35" font-size="27" lengthAdjust="spacingAndGlyphs" textLength="37.5">and</text>
<text x="1131.5" y="513.7" fill="#1b2233" stroke="#1b2233" stroke-width="0.35" font-size="27" lengthAdjust="spacingAndGlyphs" textLength="118.5">Hepatology</text>
</g>
</svg>
</body>
</html>
